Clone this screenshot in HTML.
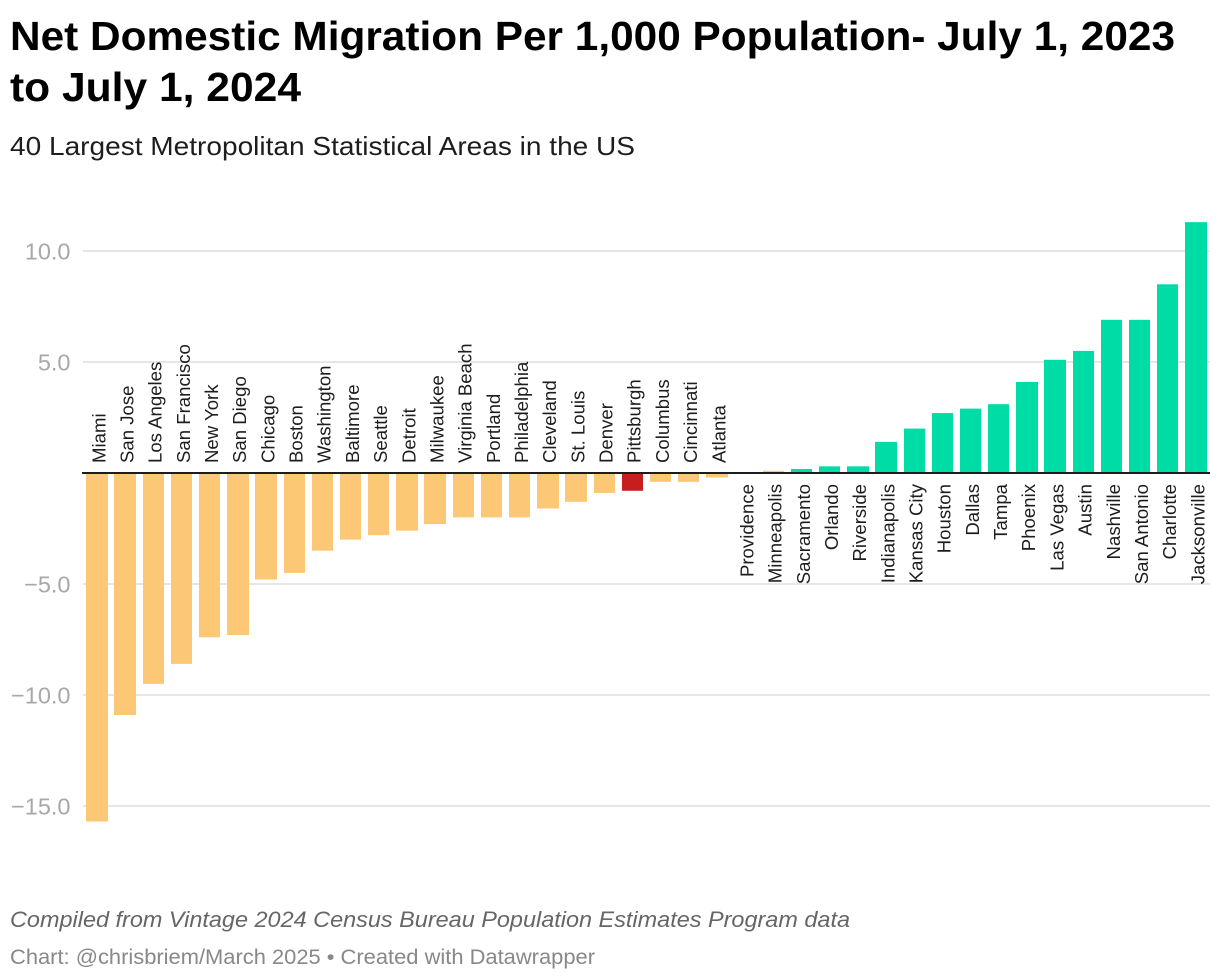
<!DOCTYPE html>
<html lang="en">
<head>
<meta charset="utf-8">
<title>Net Domestic Migration Per 1,000 Population</title>
<style>
  html, body { margin: 0; padding: 0; background: #fff; }
  svg { display: block; font-family: "Liberation Sans", sans-serif; }
</style>
</head>
<body>
<svg id="chart" width="1220" height="980" viewBox="0 0 1220 980" xmlns="http://www.w3.org/2000/svg">
  <rect x="0" y="0" width="1220" height="980" fill="#ffffff"/>
  <text x="10" y="50" font-size="41" font-weight="700" fill="#000" textLength="1165" lengthAdjust="spacingAndGlyphs">Net Domestic Migration Per 1,000 Population- July 1, 2023</text>
  <text x="10" y="101" font-size="41" font-weight="700" fill="#000" textLength="291" lengthAdjust="spacingAndGlyphs">to July 1, 2024</text>
  <text x="10" y="155" font-size="26" fill="#1d1d1d" textLength="625" lengthAdjust="spacingAndGlyphs">40 Largest Metropolitan Statistical Areas in the US</text>
  <g id="grid"></g>
  <g id="bars"></g>
  <g id="labels"></g>
  <line x1="82" x2="1210" y1="473" y2="473" stroke="#1d1d1d" stroke-width="2"/>
  <text x="10" y="927" font-size="22" font-style="italic" fill="#666" textLength="840" lengthAdjust="spacingAndGlyphs">Compiled from Vintage 2024 Census Bureau Population Estimates Program data</text>
  <text x="10" y="964" font-size="21" fill="#888" textLength="585" lengthAdjust="spacingAndGlyphs">Chart: @chrisbriem/March 2025 • Created with Datawrapper</text>
</svg>
<script>
const categories = ["Miami","San Jose","Los Angeles","San Francisco","New York","San Diego","Chicago","Boston","Washington","Baltimore","Seattle","Detroit","Milwaukee","Virginia Beach","Portland","Philadelphia","Cleveland","St. Louis","Denver","Pittsburgh","Columbus","Cincinnati","Atlanta","Providence","Minneapolis","Sacramento","Orlando","Riverside","Indianapolis","Kansas City","Houston","Dallas","Tampa","Phoenix","Las Vegas","Austin","Nashville","San Antonio","Charlotte","Jacksonville"];
const migrationValues = [-15.7,-10.9,-9.5,-8.6,-7.4,-7.3,-4.8,-4.5,-3.5,-3.0,-2.8,-2.6,-2.3,-2.0,-2.0,-2.0,-1.6,-1.3,-0.9,-0.8,-0.4,-0.4,-0.2,0,0.1,0.18,0.3,0.3,1.4,2.0,2.7,2.9,3.1,4.1,5.1,5.5,6.9,6.9,8.5,11.3];
const yTicks = [10,5,-5,-10,-15];
const yTickLabels = ["10.0","5.0","\u22125.0","\u221210.0","\u221215.0"];
const highlightedCategory = "Pittsburgh";

const SVG_NS = "http://www.w3.org/2000/svg";
const yScale = v => 473 - 22.2 * v;
const xScale = i => 86.3 + 28.18 * i;
const BAR_WIDTH = 21.35;

function barColor(name, v) {
  if (name === highlightedCategory) return "#c71e1d";
  return v > 0.1 ? "#00dca6" : "#fdc875";
}

const gridGroup = document.getElementById("grid");
yTicks.forEach((t, k) => {
  const line = document.createElementNS(SVG_NS, "line");
  
  
  line.setAttribute("x1", 83);
  line.setAttribute("x2", 1210);
  line.setAttribute("y1", yScale(t));
  line.setAttribute("y2", yScale(t));
  line.setAttribute("stroke", "#e6e6e6");
  line.setAttribute("stroke-width", 2);
  gridGroup.appendChild(line);

  const label = document.createElementNS(SVG_NS, "text");
  
  
  label.setAttribute("x", 70.5);
  label.setAttribute("y", yScale(t) + 8.5);
  label.setAttribute("text-anchor", "end");
  label.setAttribute("font-size", 23.5);
  label.setAttribute("fill", "#a8a8a8");
  label.textContent = yTickLabels[k];
  gridGroup.appendChild(label);
});

const barGroup = document.getElementById("bars");
const labelGroup = document.getElementById("labels");
categories.forEach((name, i) => {
  const v = migrationValues[i];
  const left = Math.round(xScale(i));
  const right = Math.round(xScale(i) + BAR_WIDTH);
  const y0 = yScale(0);
  const y1 = yScale(v);

  const bar = document.createElementNS(SVG_NS, "rect");
  
  
  bar.setAttribute("x", left);
  bar.setAttribute("width", right - left);
  bar.setAttribute("y", Math.min(y0, y1));
  bar.setAttribute("height", Math.abs(y1 - y0));
  bar.setAttribute("fill", barColor(name, v));
  barGroup.appendChild(bar);

  const baselineX = xScale(i) + 19;
  const below = v >= 0;
  const ty = below ? 484 : 463;
  const text = document.createElementNS(SVG_NS, "text");
  
  
  text.setAttribute("transform", "translate(" + baselineX + "," + ty + ") rotate(-90)");
  text.setAttribute("text-anchor", below ? "end" : "start");
  text.setAttribute("font-size", 18.6);
  text.setAttribute("fill", "#1d1d1d");
  text.textContent = name;
  labelGroup.appendChild(text);
});
</script>
</body>
</html>
